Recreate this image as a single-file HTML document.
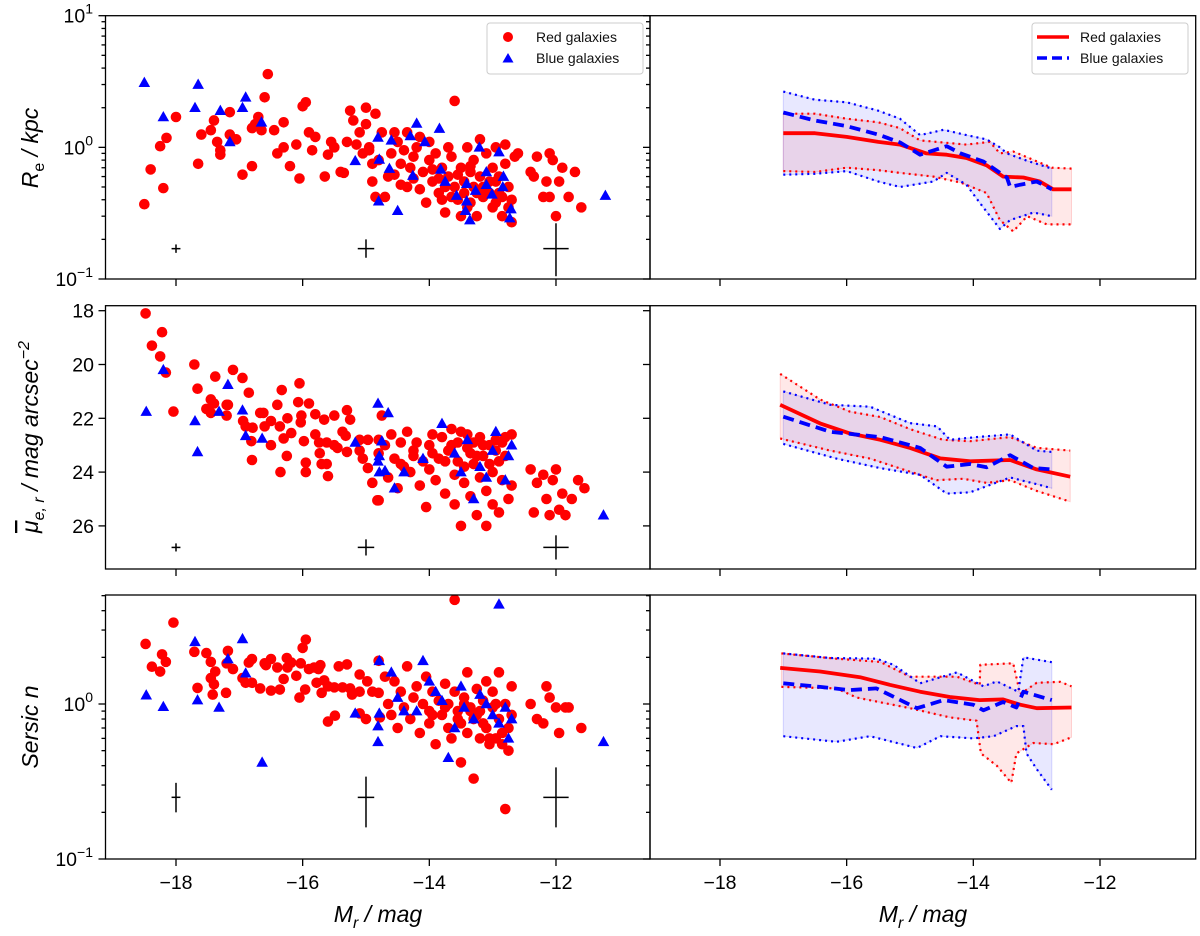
<!DOCTYPE html>
<html><head><meta charset="utf-8"><style>
html,body{margin:0;padding:0;background:#fff;}
svg{display:block;font-family:"Liberation Sans","DejaVu Sans",sans-serif;}
</style></head><body>
<svg id="fig" width="1200" height="936" viewBox="0 0 1200 936" xmlns="http://www.w3.org/2000/svg">
<rect x="0" y="0" width="1200" height="936" fill="#fff"/>
<g id="layer"></g>
<g>
<rect x="487" y="23" width="156" height="51" rx="3" fill="#fff" fill-opacity="0.8" stroke="#ccc"/>
<circle cx="508" cy="37" r="5" fill="#ff0000"/>
<polygon points="508,53 513.5,62.5 502.5,62.5" fill="#0000ff"/>
<text x="536" y="42" font-size="14" fill="#111">Red galaxies</text>
<text x="536" y="63" font-size="14" fill="#111">Blue galaxies</text>
</g>
<g>
<rect x="1032" y="23" width="156" height="51" rx="3" fill="#fff" fill-opacity="0.8" stroke="#ccc"/>
<line x1="1037" y1="37" x2="1069" y2="37" stroke="#ff0000" stroke-width="3.5"/>
<line x1="1037" y1="58" x2="1069" y2="58" stroke="#0000ff" stroke-width="3.5" stroke-dasharray="10,5"/>
<text x="1080" y="42" font-size="14" fill="#111">Red galaxies</text>
<text x="1080" y="63" font-size="14" fill="#111">Blue galaxies</text>
</g>
<text transform="translate(38,148) rotate(-90)" text-anchor="middle" font-size="23" font-style="italic" fill="#000">R<tspan font-size="16" dy="6" font-style="normal">e</tspan><tspan dy="-6"> / kpc</tspan></text>
<text transform="translate(38,437) rotate(-90)" text-anchor="middle" font-size="23" font-style="italic" fill="#000"><tspan text-decoration="overline">μ</tspan><tspan font-size="16" dy="6">e, r</tspan><tspan dy="-6"> / mag arcsec</tspan><tspan font-size="16" dy="-9">−2</tspan></text>
<text transform="translate(38,727) rotate(-90)" text-anchor="middle" font-size="23" font-style="italic" fill="#000">Sersic n</text>
<text x="378" y="922" text-anchor="middle" font-size="23" font-style="italic" fill="#000">M<tspan font-size="16" dy="6">r</tspan><tspan dy="-6"> / mag</tspan></text>
<text x="923" y="922" text-anchor="middle" font-size="23" font-style="italic" fill="#000">M<tspan font-size="16" dy="6">r</tspan><tspan dy="-6"> / mag</tspan></text>
</svg>
<script>
const xTicks = [-18, -16, -14, -12];
const xTickLabels = ["\u221218", "\u221216", "\u221214", "\u221212"];
const muTicks = [18, 20, 22, 24, 26];
const muTickLabels = ["18", "20", "22", "24", "26"];

const redReM = [-18.5,-18.4,-18.25,-18.2,-18.15,-18.0,-17.65,-17.6,-17.45,-17.4,-17.35,-17.3,-17.3,-17.15,-17.15,-17.05,-16.95,-16.8,-16.8,-16.75,-16.7,-16.65,-16.6,-16.55,-16.45,-16.4,-16.3,-16.3,-16.2,-16.1,-16.05,-16.0,-15.95,-15.9,-15.85,-15.8,-15.65,-15.6,-15.55,-15.5,-15.4,-15.35,-15.3,-15.25,-15.2,-15.15,-15.1,-15.05,-15.0,-15.0,-14.95,-14.9,-14.85,-14.95,-14.9,-14.85,-14.8,-14.75,-14.7,-14.65,-14.6,-14.55,-14.5,-14.45,-14.4,-14.35,-14.35,-14.3,-14.25,-14.2,-14.15,-14.1,-14.05,-14.0,-14.0,-13.95,-13.9,-13.85,-13.8,-13.75,-13.7,-13.7,-13.65,-13.6,-13.6,-13.55,-13.5,-13.5,-13.45,-13.4,-13.4,-13.35,-13.3,-13.3,-13.25,-13.2,-13.2,-13.15,-13.1,-13.05,-13.0,-13.0,-12.95,-12.9,-12.9,-12.85,-12.8,-12.8,-12.75,-12.7,-12.7,-12.65,-12.6,-12.4,-12.35,-12.3,-12.2,-12.15,-12.1,-12.1,-12.05,-12.0,-11.95,-11.9,-11.8,-11.7,-11.6,-14.55,-14.45,-14.15,-13.95,-13.85,-13.65,-13.45,-13.35,-13.15,-13.05,-12.95,-12.85,-12.75,-13.75,-14.25,-13.55,-13.25,-12.95,-13.35,-13.8];
const redReV = [0.37,0.68,1.02,0.49,1.18,1.7,0.75,1.25,1.35,1.6,1.1,0.95,0.88,1.25,1.85,1.15,0.62,0.72,1.4,1.5,1.7,1.35,2.4,3.6,1.35,0.9,1.55,1.0,0.72,1.05,0.58,2.05,2.2,1.3,0.95,1.2,0.6,0.88,1.1,1.0,0.65,0.64,1.1,1.9,1.6,1.05,1.3,0.9,1.5,2.0,1.0,0.75,1.8,0.95,0.55,0.42,0.8,1.3,0.42,0.6,0.9,1.3,1.1,0.75,0.95,1.3,0.5,0.7,0.85,1.0,1.2,0.65,0.38,0.8,1.1,0.55,0.9,0.45,0.7,0.32,0.6,1.0,0.85,2.25,0.5,0.4,0.7,0.3,0.55,1.0,0.35,0.65,0.5,0.8,0.3,1.15,0.6,0.42,0.9,0.55,0.7,0.35,1.0,0.45,0.6,0.3,1.05,0.75,0.5,0.27,0.4,0.85,0.9,0.65,0.6,0.85,0.42,0.55,0.9,0.42,0.8,0.3,0.55,0.7,0.42,0.65,0.35,0.62,0.52,0.48,0.68,0.58,0.42,0.45,0.38,0.5,0.45,0.38,0.42,0.35,0.5,0.58,0.62,0.45,0.55,0.72,0.4];
const blueReM = [-18.5,-18.2,-17.7,-17.65,-17.3,-17.15,-16.95,-16.9,-16.65,-15.17,-14.81,-14.6,-14.79,-14.63,-14.8,-14.5,-14.2,-14.3,-14.07,-13.84,-14.26,-13.82,-13.75,-13.57,-13.41,-13.41,-13.43,-13.36,-13.27,-13.21,-13.1,-13.1,-13.01,-12.9,-12.83,-12.84,-12.71,-12.73,-11.22];
const blueReV = [3.1,1.7,2.0,3.0,1.9,1.1,2.0,2.4,1.55,0.79,1.19,1.13,0.81,0.69,0.39,0.33,1.52,1.22,1.1,1.39,0.61,0.68,0.55,0.43,0.53,0.39,0.33,0.28,0.47,1.0,0.65,0.52,0.44,0.92,0.6,0.5,0.34,0.29,0.43];

const redMuM = [-18.48,-18.38,-18.25,-18.22,-18.16,-18.04,-17.71,-17.66,-17.52,-17.45,-17.45,-17.38,-17.4,-17.2,-17.18,-17.2,-17.1,-16.95,-16.94,-16.9,-16.85,-16.81,-16.8,-16.79,-16.67,-16.62,-16.6,-16.5,-16.5,-16.4,-16.36,-16.35,-16.33,-16.3,-16.25,-16.24,-16.18,-16.05,-16.07,-16.03,-16.02,-15.98,-15.95,-15.95,-15.9,-15.8,-15.8,-15.74,-15.73,-15.7,-15.66,-15.62,-15.62,-15.6,-15.5,-15.5,-15.45,-15.37,-15.32,-15.3,-15.3,-15.25,-15.1,-15.1,-15.05,-14.97,-14.97,-14.9,-14.82,-14.8,-14.8,-14.75,-14.8,-14.7,-14.65,-14.6,-14.55,-14.5,-14.45,-14.4,-14.35,-14.3,-14.25,-14.2,-14.15,-14.1,-14.05,-14.0,-14.0,-13.95,-13.9,-13.85,-13.8,-13.75,-13.7,-13.65,-13.6,-13.6,-13.55,-13.5,-13.5,-13.45,-13.4,-13.4,-13.35,-13.3,-13.3,-13.25,-13.2,-13.2,-13.15,-13.1,-13.1,-13.05,-13.0,-13.0,-12.95,-12.9,-12.9,-12.85,-12.8,-12.8,-12.75,-12.7,-12.7,-12.4,-12.35,-12.3,-12.2,-12.15,-12.1,-12.05,-12.0,-11.95,-11.9,-11.85,-11.75,-11.65,-11.55,-13.95,-13.75,-13.55,-13.35,-13.15,-12.95,-12.85,-13.65,-13.45,-13.25,-13.05,-14.25,-14.45];
const redMuV = [18.1,19.3,19.7,18.8,20.3,21.75,20.0,20.9,21.65,21.3,21.8,20.45,21.45,21.5,21.5,21.9,20.2,20.5,22.1,22.3,21.05,22.85,23.55,22.35,21.8,21.8,22.3,22.1,23.0,21.5,22.3,24.0,20.95,22.75,23.4,22.0,22.55,20.7,21.4,22.15,21.9,22.85,23.65,24.0,21.45,21.85,22.6,22.9,23.3,23.7,22.05,22.9,23.7,24.15,21.9,23.0,23.1,22.5,22.65,21.7,23.25,22.05,23.2,22.8,23.5,22.8,23.85,24.4,25.05,25.05,22.8,21.9,23.3,23.0,24.2,22.6,23.5,24.6,22.9,23.8,22.5,24.0,23.2,22.9,24.5,23.6,25.3,23.0,23.9,22.6,24.3,23.5,22.7,24.8,23.2,22.4,24.1,25.2,23.6,22.5,26.0,24.4,23.1,22.6,24.9,23.7,22.9,25.6,24.2,22.7,23.4,24.7,26.0,23.0,25.2,24.0,22.8,23.6,25.5,24.3,22.7,23.4,25.0,24.5,22.6,23.9,25.5,24.4,24.1,25.0,25.6,24.3,23.9,25.4,24.8,25.6,25.0,24.3,24.6,23.3,23.6,22.9,23.3,23.0,23.2,22.9,23.0,23.8,23.4,23.7,23.4,23.7];
const blueMuM = [-18.47,-18.2,-17.7,-17.66,-17.32,-17.18,-16.95,-16.9,-16.64,-15.17,-14.81,-14.81,-14.79,-14.79,-14.75,-14.7,-14.65,-14.55,-14.4,-14.1,-13.8,-13.6,-13.5,-13.4,-13.3,-13.2,-13.1,-13.0,-12.95,-12.8,-12.75,-12.7,-11.25];
const blueMuV = [21.75,20.2,22.1,23.25,21.75,20.75,21.7,22.65,22.75,22.9,21.45,23.6,24.0,23.4,22.85,23.95,21.8,24.6,24.0,23.5,22.2,23.3,24.0,22.8,25.0,23.8,24.2,23.2,22.5,24.3,23.4,23.0,25.6];

const redNM = [-18.48,-18.38,-18.25,-18.22,-18.16,-18.04,-17.71,-17.66,-17.52,-17.45,-17.45,-17.4,-17.38,-17.42,-17.21,-17.18,-17.2,-17.1,-16.95,-16.9,-16.85,-16.8,-16.8,-16.67,-16.6,-16.58,-16.5,-16.5,-16.4,-16.36,-16.3,-16.25,-16.24,-16.18,-16.1,-16.05,-16.0,-15.95,-15.96,-16.03,-15.9,-15.82,-15.75,-15.72,-15.78,-15.7,-15.66,-15.6,-15.6,-15.49,-15.5,-15.43,-15.37,-15.3,-15.25,-15.22,-15.1,-15.1,-15.1,-15.0,-14.98,-14.9,-14.8,-14.8,-14.78,-14.7,-14.65,-14.6,-14.55,-14.5,-14.45,-14.4,-14.35,-14.3,-14.25,-14.2,-14.15,-14.1,-14.05,-14.0,-14.0,-13.95,-13.9,-13.85,-13.8,-13.75,-13.7,-13.7,-13.65,-13.6,-13.6,-13.55,-13.5,-13.5,-13.45,-13.4,-13.4,-13.35,-13.3,-13.3,-13.25,-13.2,-13.2,-13.15,-13.1,-13.1,-13.05,-13.0,-13.0,-12.95,-12.9,-12.9,-12.85,-12.8,-12.8,-12.75,-12.7,-12.7,-12.75,-12.4,-12.3,-12.2,-12.15,-12.1,-12.0,-11.95,-11.85,-11.8,-11.6,-13.95,-13.75,-13.55,-13.35,-13.15,-12.95,-12.85,-13.45,-13.25,-13.05];
const redNV = [2.44,1.74,1.62,2.09,1.87,3.35,2.17,1.27,2.13,1.87,1.47,1.34,1.62,1.15,1.18,2.2,1.83,1.68,1.47,1.37,1.85,1.95,1.37,1.26,1.83,1.78,1.95,1.22,1.72,1.24,1.45,1.98,1.72,1.85,1.52,1.1,2.3,2.6,1.24,1.83,1.68,1.72,1.68,1.78,1.37,1.18,1.42,1.3,0.77,0.84,1.28,1.75,1.28,1.8,1.26,1.15,1.55,1.2,0.87,0.8,1.4,1.2,1.9,1.18,0.82,1.5,1.0,0.85,1.4,0.7,1.2,0.95,1.75,0.8,1.1,1.3,0.65,1.0,1.5,0.9,0.75,1.2,0.55,1.05,0.85,1.35,0.7,1.0,0.6,4.7,1.2,0.9,0.42,0.75,1.1,0.65,1.6,0.95,0.33,0.8,1.25,0.6,0.9,1.05,0.7,1.4,0.55,0.95,1.2,0.6,0.8,1.6,0.55,0.21,1.0,0.7,0.85,1.3,0.5,1.0,0.8,0.75,1.3,1.1,0.95,0.65,0.95,0.95,0.7,0.85,0.95,0.8,0.9,0.75,1.0,0.65,1.0,0.85,0.6];
const blueNM = [-18.47,-18.2,-17.7,-17.66,-17.32,-17.18,-16.95,-16.9,-16.64,-15.17,-14.81,-14.81,-14.79,-14.79,-14.6,-14.5,-14.4,-14.2,-14.1,-14.0,-13.9,-13.8,-13.7,-13.6,-13.5,-13.45,-13.3,-13.2,-12.9,-13.1,-13.0,-12.9,-12.8,-12.75,-12.7,-11.25];
const blueNV = [1.14,0.96,2.52,1.06,0.95,1.95,2.63,1.58,0.42,0.87,0.72,0.57,1.9,0.87,1.6,1.1,0.9,0.9,1.9,1.4,1.2,1.05,0.45,0.7,1.3,0.95,0.8,1.15,4.4,1.0,0.85,0.75,0.95,0.6,0.8,0.57];

const reRedM = [-17,-16.5,-16,-15.5,-15.16,-14.74,-14.42,-14.11,-13.79,-13.53,-13.21,-12.95,-12.74,-12.45];
const reRedMed = [1.28,1.28,1.2,1.1,1.05,0.9,0.88,0.83,0.73,0.6,0.59,0.55,0.48,0.48];
const reRedUpM = [-17,-16.5,-16,-15.5,-15.16,-14.84,-14.11,-13.74,-13.58,-13.37,-13.15,-12.76,-12.45];
const reRedUp = [1.8,1.8,1.65,1.55,1.4,1.13,1.05,1.1,0.9,0.93,0.84,0.7,0.69];
const reRedLoM = [-17,-16.5,-16,-15.5,-15.16,-14.63,-14.2,-13.79,-13.58,-13.37,-13.15,-12.84,-12.45];
const reRedLo = [0.66,0.65,0.7,0.67,0.64,0.6,0.54,0.45,0.28,0.23,0.3,0.26,0.26];
const reBlueM = [-17,-16.5,-16,-15.5,-15.16,-14.84,-14.42,-14.2,-13.84,-13.47,-13.42,-13.26,-13.0,-12.76];
const reBlueMed = [1.84,1.6,1.45,1.25,1.09,0.88,1.02,0.9,0.78,0.59,0.5,0.52,0.55,0.48];
const reBlueUpM = [-17,-16.5,-16,-15.5,-15.16,-14.84,-14.47,-14.11,-13.79,-13.58,-13.47,-13.15,-12.76];
const reBlueUp = [2.65,2.3,2.2,1.9,1.65,1.24,1.36,1.24,1.15,1.0,0.9,0.79,0.69];
const reBlueLoM = [-17,-16.5,-16,-15.5,-15.16,-14.63,-14.42,-14.11,-13.9,-13.58,-13.42,-13.05,-12.76];
const reBlueLo = [0.62,0.63,0.66,0.55,0.5,0.55,0.64,0.52,0.38,0.24,0.28,0.32,0.3];

const muRedM = [-17.05,-16.42,-15.95,-15.47,-15.0,-14.52,-14.05,-13.42,-13.0,-12.47];
const muRedMed = [21.5,22.19,22.56,22.8,23.1,23.49,23.6,23.55,23.9,24.17];
const muRedUpM = [-17.05,-16.42,-15.95,-15.47,-15.0,-14.48,-14.05,-13.42,-13.0,-12.47];
const muRedUp = [20.35,21.3,21.75,21.95,22.4,22.8,22.85,22.7,23.1,23.2];
const muRedLoM = [-17.05,-16.26,-15.63,-15.11,-14.58,-14.16,-13.79,-13.42,-13.0,-12.47];
const muRedLo = [22.75,23.2,23.5,23.9,24.3,24.25,24.4,24.3,24.7,25.1];
const muBlueM = [-17.0,-16.26,-15.47,-14.84,-14.42,-14.05,-13.79,-13.42,-13.05,-12.76];
const muBlueMed = [21.94,22.5,22.7,23.1,23.8,23.7,23.82,23.37,23.85,23.9];
const muBlueUpM = [-17.0,-16.26,-15.63,-15.0,-14.57,-14.37,-13.95,-13.42,-13.0,-12.76];
const muBlueUp = [21.0,21.5,21.57,22.18,22.3,22.8,22.7,22.6,23.2,23.25];
const muBlueLoM = [-17.0,-16.16,-15.47,-14.84,-14.42,-14.05,-13.42,-13.0,-12.76];
const muBlueLo = [22.95,23.5,23.85,24.1,24.8,24.75,24.2,24.45,24.6];

const nRedM = [-17.05,-16.42,-15.79,-15.32,-14.84,-14.37,-13.9,-13.53,-13.26,-13.0,-12.45];
const nRedMed = [1.71,1.62,1.49,1.33,1.2,1.11,1.06,1.07,0.99,0.94,0.95];
const nRedUpM = [-17.03,-16.16,-15.47,-15.0,-14.26,-13.9,-13.89,-13.37,-13.26,-13.0,-12.63,-12.45];
const nRedUp = [2.12,1.96,1.87,1.5,1.5,1.33,1.79,1.83,1.16,1.37,1.39,1.3];
const nRedLoM = [-17.03,-16.16,-15.84,-15.0,-14.37,-13.95,-13.88,-13.63,-13.4,-13.32,-13.05,-12.73,-12.45];
const nRedLo = [1.29,1.26,1.1,0.94,0.82,0.78,0.48,0.4,0.31,0.48,0.56,0.55,0.61];
const nBlueM = [-17.0,-16.42,-15.95,-15.53,-14.89,-14.47,-14.0,-13.84,-13.53,-13.32,-13.21,-12.76];
const nBlueMed = [1.36,1.29,1.23,1.26,0.94,1.06,0.99,0.91,1.03,0.95,1.2,1.06];
const nBlueUpM = [-17.0,-16.26,-15.53,-15.26,-14.84,-14.26,-13.84,-13.63,-13.29,-13.21,-12.76];
const nBlueUp = [2.12,1.98,1.96,1.79,1.36,1.6,1.3,1.4,1.2,2.0,1.86];
const nBlueLoM = [-17.0,-16.16,-15.63,-14.89,-14.52,-14.0,-13.68,-13.32,-13.21,-13.16,-13.0,-12.76];
const nBlueLo = [0.62,0.57,0.62,0.52,0.62,0.6,0.62,0.72,0.72,0.48,0.38,0.28];

const errM = [-18, -15, -12];
const errXerr = [0.07, 0.13, 0.2];
const errReY = [0.17, 0.17, 0.17];
const errReLo = [0.158, 0.145, 0.105];
const errReHi = [0.183, 0.2, 0.265];
const errMuY = [26.8, 26.8, 26.8];
const errMuErr = [0.15, 0.3, 0.45];
const errNY = [0.25, 0.25, 0.25];
const errNLo = [0.2, 0.16, 0.16];
const errNHi = [0.31, 0.34, 0.39];

const NS = "http://www.w3.org/2000/svg";
const layer = document.getElementById('layer');
function mk(tag, attrs, parent) {
  const e = document.createElementNS(NS, tag);
  for (const k in attrs) e.setAttribute(k, attrs[k]);
  (parent || layer).appendChild(e);
  return e;
}
const PX = 63.33;
const panelsX = [{x0:105.5, x1:650, ref:176}, {x0:650, x1:1195.7, ref:720}];
function xs(col, m) { return panelsX[col].ref + (m + 18) * PX; }
const rows = [
  {y0:15.7, y1:279, f:v => 279 - (Math.log10(v) + 1) * 131.65},
  {y0:305.7, y1:569, f:v => 310.7 + (v - 18) * 26.9},
  {y0:595, y1:859, f:v => 859 - (Math.log10(v) + 1) * 155}
];

function scatterRed(row, M, V, name) {
  const g = mk('g', {});
  
  
  for (let i = 0; i < M.length; i++) {
    const c = mk('circle', {cx: xs(0, M[i]), cy: rows[row].f(V[i]), r: 5.3, fill: '#ff0000'}, g);
    
    
  }
}
function scatterBlue(row, M, V, name) {
  const g = mk('g', {});
  
  
  for (let i = 0; i < M.length; i++) {
    const x = xs(0, M[i]), y = rows[row].f(V[i]);
    const p = mk('polygon', {points: `${x},${y-6} ${x+5.8},${y+4.3} ${x-5.8},${y+4.3}`, fill: '#0000ff'}, g);
    
    
  }
}
function pts(row, M, V) { return M.map((m, i) => [xs(1, m), rows[row].f(V[i])]); }
function band(row, upM, up, loM, lo, color, name) {
  const a = pts(row, upM, up), b = pts(row, loM, lo).reverse();
  const d = 'M' + a.concat(b).map(p => p[0].toFixed(1) + ',' + p[1].toFixed(1)).join('L') + 'Z';
  const p = mk('path', {d: d, fill: color, 'fill-opacity': 0.09, stroke: color, 'stroke-opacity': 0.15, 'stroke-width': 1});
  
  
}
function line(row, M, V, color, w, dash, name) {
  const d = 'M' + pts(row, M, V).map(p => p[0].toFixed(1) + ',' + p[1].toFixed(1)).join('L');
  const attrs = {d: d, fill: 'none', stroke: color, 'stroke-width': w, 'stroke-linejoin': 'round'};
  if (dash) attrs['stroke-dasharray'] = dash;
  const p = mk('path', attrs);
  
  
}
function errbars(row, lo, hi, yv) {
  for (let i = 0; i < errM.length; i++) {
    const x = xs(0, errM[i]), y = rows[row].f(yv[i]);
    const g = mk('g', {stroke: '#000', 'stroke-width': 1.5});
    
    
    mk('line', {x1: xs(0, errM[i] - errXerr[i]), x2: xs(0, errM[i] + errXerr[i]), y1: y, y2: y}, g);
    mk('line', {x1: x, x2: x, y1: rows[row].f(lo[i]), y2: rows[row].f(hi[i])}, g);
  }
}

band(0, reRedUpM, reRedUp, reRedLoM, reRedLo, '#ff0000', 're-red-band');
band(0, reBlueUpM, reBlueUp, reBlueLoM, reBlueLo, '#0000ff', 're-blue-band');
band(1, muRedUpM, muRedUp, muRedLoM, muRedLo, '#ff0000', 'mu-red-band');
band(1, muBlueUpM, muBlueUp, muBlueLoM, muBlueLo, '#0000ff', 'mu-blue-band');
band(2, nRedUpM, nRedUp, nRedLoM, nRedLo, '#ff0000', 'n-red-band');
band(2, nBlueUpM, nBlueUp, nBlueLoM, nBlueLo, '#0000ff', 'n-blue-band');
const sets = [
  [0, reRedM, reRedMed, reRedUpM, reRedUp, reRedLoM, reRedLo, reBlueM, reBlueMed, reBlueUpM, reBlueUp, reBlueLoM, reBlueLo, 're'],
  [1, muRedM, muRedMed, muRedUpM, muRedUp, muRedLoM, muRedLo, muBlueM, muBlueMed, muBlueUpM, muBlueUp, muBlueLoM, muBlueLo, 'mu'],
  [2, nRedM, nRedMed, nRedUpM, nRedUp, nRedLoM, nRedLo, nBlueM, nBlueMed, nBlueUpM, nBlueUp, nBlueLoM, nBlueLo, 'n']
];
sets.forEach(s => {
  const r = s[0], n = s[13];
  line(r, s[3], s[4], '#ff0000', 2.2, '2,4', n + '-red-upper');
  line(r, s[5], s[6], '#ff0000', 2.2, '2,4', n + '-red-lower');
  line(r, s[9], s[10], '#0000ff', 2.2, '2,4', n + '-blue-upper');
  line(r, s[11], s[12], '#0000ff', 2.2, '2,4', n + '-blue-lower');
  line(r, s[1], s[2], '#ff0000', 3.8, null, n + '-red-median');
  line(r, s[7], s[8], '#0000ff', 3.8, '11,6', n + '-blue-median');
});

scatterRed(0, redReM, redReV, 're-red-points');
scatterBlue(0, blueReM, blueReV, 're-blue-points');
scatterRed(1, redMuM, redMuV, 'mu-red-points');
scatterBlue(1, blueMuM, blueMuV, 'mu-blue-points');
scatterRed(2, redNM, redNV, 'n-red-points');
scatterBlue(2, blueNM, blueNV, 'n-blue-points');
errbars(0, errReLo, errReHi, errReY);
errbars(1, errMuY.map((v, i) => v - errMuErr[i]), errMuY.map((v, i) => v + errMuErr[i]), errMuY);
errbars(2, errNLo, errNHi, errNY);

const axg = mk('g', {stroke: '#000', 'stroke-width': 1.3, fill: 'none'});


rows.forEach((r, ri) => {
  panelsX.forEach((p, ci) => {
    const f = mk('rect', {x: p.x0, y: r.y0, width: p.x1 - p.x0, height: r.y1 - r.y0}, axg);
    
    
    xTicks.forEach(t => mk('line', {x1: xs(ci, t), x2: xs(ci, t), y1: r.y1, y2: r.y1 + 7}, axg));
    const yt = [];
    if (ri === 1) muTicks.forEach(t => yt.push([r.f(t), 7]));
    else {
      const decs = ri === 0 ? [0.1, 1, 10] : [0.1, 1];
      decs.forEach(d => yt.push([r.f(d), 7]));
      [0.1, 1].forEach(d => { for (let k = 2; k <= 9; k++) { const v = d * k; const y = r.f(v); if (y >= r.y0 - 0.5) yt.push([y, 4]); } });
    }
    yt.forEach(([y, L]) => mk('line', {x1: p.x0 - L, x2: p.x0, y1: y, y2: y}, axg));
  });
});
const tl = mk('g', {'font-size': 19.5, fill: '#000'});


panelsX.forEach((p, ci) => {
  xTicks.forEach((t, i) => {
    const e = mk('text', {x: xs(ci, t), y: 889, 'text-anchor': 'middle'}, tl);
    e.textContent = xTickLabels[i];
    
    
  });
});
function powLabel(y, exp) {
  const e = mk('text', {x: 93, y: y + 7, 'text-anchor': 'end'}, tl);
  
  
  const a = mk('tspan', {}, e); a.textContent = '10';
  const b = mk('tspan', {'font-size': 14, dy: -9}, e); b.textContent = exp;
}
powLabel(rows[0].f(10), '1'); powLabel(rows[0].f(1), '0'); powLabel(rows[0].f(0.1), '\u22121');
powLabel(rows[2].f(1), '0'); powLabel(rows[2].f(0.1), '\u22121');
muTicks.forEach((t, i) => {
  const e = mk('text', {x: 94, y: rows[1].f(t) + 7, 'text-anchor': 'end'}, tl);
  e.textContent = muTickLabels[i];
  
  
});
</script>
</body></html>
